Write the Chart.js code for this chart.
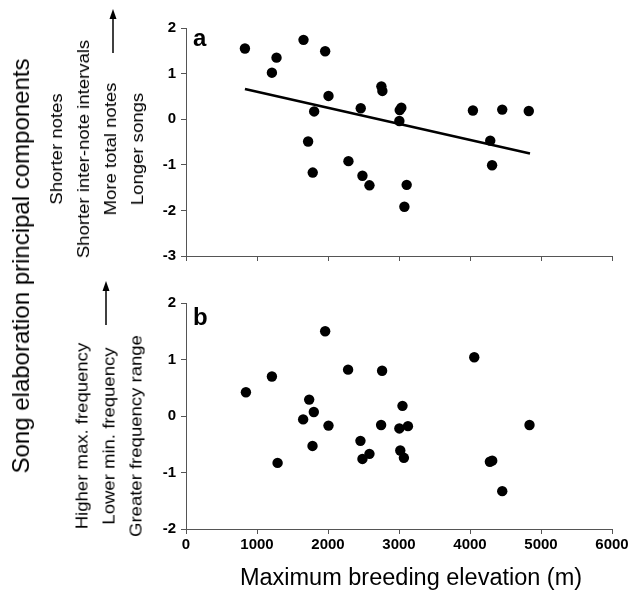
<!DOCTYPE html>
<html><head><meta charset="utf-8">
<script src="https://cdn.jsdelivr.net/npm/chart.js@4/dist/chart.umd.min.js"></script>
<style>
html,body{margin:0;padding:0;background:#fff;width:633px;height:592px;overflow:hidden;position:relative;font-family:"Liberation Sans",Arial,sans-serif;}
canvas{position:absolute;left:0;}
#c1{top:0}
#c2{top:270px}
.rot{position:absolute;transform:translate(-50%,-50%) rotate(-90deg);white-space:nowrap;text-align:center;color:#000;}
.sub{font-size:17px;line-height:27px;transform:translate(-50%,-50%) rotate(-90deg) scaleX(1.09);}
#big{font-size:24px;left:21px;top:266px;}
#xt{position:absolute;left:411px;top:577px;transform:translate(-50%,-50%);font-size:23.5px;white-space:nowrap;color:#000;}
svg{position:absolute;left:0;top:0;}
</style></head><body>
<canvas id="c1" width="633" height="270" style="width:633px;height:270px"></canvas>
<canvas id="c2" width="633" height="322" style="width:633px;height:322px"></canvas>
<div class="rot" id="big">Song elaboration principal components</div>
<div class="rot sub" style="left:97px;top:149px;">Shorter notes<br>Shorter inter-note intervals<br>More total notes<br>Longer songs</div>
<div class="rot sub" style="left:109px;top:436px;">Higher max. frequency<br>Lower min. frequency<br>Greater frequency range</div>
<div id="xt">Maximum breeding elevation (m)</div>
<svg width="633" height="592">
<line x1="113" y1="53" x2="113" y2="18" stroke="#000" stroke-width="1.5"/>
<polygon points="113,9 109.5,19 116.5,19" fill="#000"/>
<line x1="106" y1="325" x2="106" y2="290" stroke="#000" stroke-width="1.5"/>
<polygon points="106,281 102.5,291 109.5,291" fill="#000"/>
</svg>
<script>
// ---- data ----
const xTicks = [0, 1000, 2000, 3000, 4000, 5000, 6000];
const yTicksA = [-3, -2, -1, 0, 1, 2];
const yTicksB = [-2, -1, 0, 1, 2];

const elevA = [830,1275,1210,1655,1960,2007,1805,1720,1785,2288,2461,2485,2584,2752,2766,3010,3033,3005,3108,3076,4041,4454,4828,4285,4311];
const pcA   = [1.55,1.35,1.02,1.74,1.49,0.51,0.17,-0.49,-1.17,-0.92,0.24,-1.24,-1.45,0.72,0.62,0.20,0.25,-0.04,-1.44,-1.92,0.19,0.21,0.18,-0.47,-1.01];

const trendX = [830, 4845];
const trendY = [0.66, -0.75];

const elevB = [844,1210,1290,1960,1735,1800,1650,2007,1782,2283,2762,2748,2457,2485,2584,3049,3005,3126,3018,3069,4060,4838,4280,4313,4454];
const pcB   = [0.42,0.70,-0.83,1.50,0.29,0.07,-0.06,-0.17,-0.53,0.82,0.80,-0.16,-0.44,-0.76,-0.67,0.18,-0.22,-0.18,-0.61,-0.74,1.04,-0.16,-0.81,-0.79,-1.33];

const panelA = 'a';
const panelB = 'b';

// ---- helpers ----
const FONT = '"Liberation Sans", Arial, sans-serif';
const toPts = (xs, ys) => xs.map((x, i) => ({x: x, y: ys[i]}));
const axisColor = '#555';

function letterPlugin(txt, x, y) {
  return {
    id: 'letter_' + txt,
    afterDraw(chart) {
      const ctx = chart.ctx;
      ctx.save();
      ctx.font = 'bold 24px ' + FONT;
      ctx.fillStyle = '#000';
      ctx.textBaseline = 'alphabetic';
      ctx.textAlign = 'left';
      ctx.fillText(txt, x, y);
      ctx.restore();
    }
  };
}

function makeOptions(yTicks, padTop, xHeight, showX) {
  return {
    responsive: false,
    animation: false,
    devicePixelRatio: 1,
    layout: {padding: {left: 0, right: 21, top: padTop, bottom: 0}},
    plugins: {legend: {display: false}, tooltip: {enabled: false}},
    scales: {
      x: {
        type: 'linear',
        min: xTicks[0], max: xTicks[xTicks.length - 1],
        afterBuildTicks: s => { s.ticks = xTicks.map(v => ({value: v})); },
        afterFit: s => { s.height = xHeight; },
        grid: {drawOnChartArea: false, drawTicks: true, tickLength: 5, color: axisColor},
        border: {display: true, color: axisColor, width: 1},
        ticks: {display: showX, color: '#000', font: {family: FONT, size: 15, weight: 'bold'}, padding: 2, maxRotation: 0, autoSkip: false, callback: v => String(v)}
      },
      y: {
        type: 'linear',
        min: yTicks[0], max: yTicks[yTicks.length - 1],
        afterBuildTicks: s => { s.ticks = yTicks.map(v => ({value: v})); },
        afterFit: s => { s.width = 186; },
        grid: {drawOnChartArea: false, drawTicks: true, tickLength: 5, color: axisColor},
        border: {display: true, color: axisColor, width: 1},
        ticks: {color: '#000', font: {family: FONT, size: 15, weight: 'bold'}, padding: 5, callback: v => String(v)}
      }
    }
  };
}

new Chart(document.getElementById('c1'), {
  type: 'scatter',
  data: {
    datasets: [
      {data: toPts(elevA, pcA), backgroundColor: '#000', borderColor: '#000', pointRadius: 5.2, pointBorderWidth: 0},
      {type: 'line', data: toPts(trendX, trendY), borderColor: '#000', borderWidth: 2.6, pointRadius: 0, fill: false}
    ]
  },
  options: makeOptions(yTicksA, 28, 14, false),
  plugins: [letterPlugin(panelA, 193, 46)]
});

new Chart(document.getElementById('c2'), {
  type: 'scatter',
  data: {
    datasets: [
      {data: toPts(elevB, pcB), backgroundColor: '#000', borderColor: '#000', pointRadius: 5.2, pointBorderWidth: 0}
    ]
  },
  options: makeOptions(yTicksB, 33, 63, true),
  plugins: [letterPlugin(panelB, 193, 55)]
});
</script>
</body></html>
